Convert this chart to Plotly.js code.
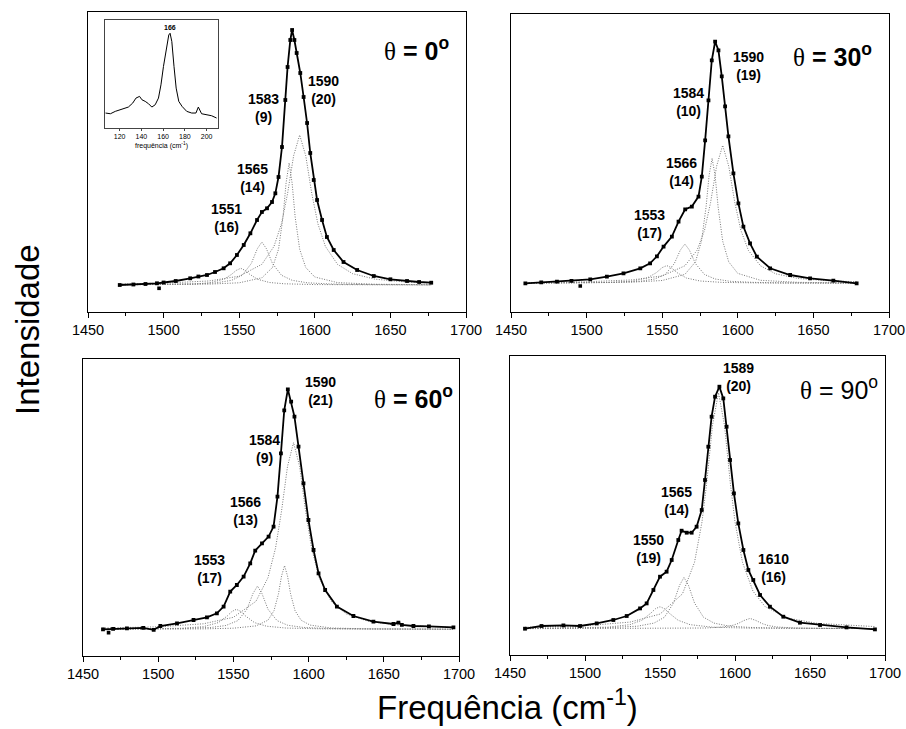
<!DOCTYPE html>
<html><head><meta charset="utf-8">
<script src="https://cdn.plot.ly/plotly-3.0.1.min.js"></script>
<style>html,body{margin:0;padding:0;background:#fff}#chart{width:906px;height:729px}</style>
</head><body><div id="chart"></div>
<script>
// ---------- Panel θ = 0° ----------
const p1X = [1471,1480,1488,1495.6,1500,1508,1517.6,1523,1528.7,1534,1539.7,1544,1548.5,1553,1557.4,1561.8,1565,1568.4,1571.7,1573.9,1576,1578.3,1580.5,1582,1583.8,1585,1586.5,1588,1590.4,1592.6,1594.9,1597,1599.3,1601.5,1604.8,1608,1612.5,1619,1628,1639,1650,1661,1669,1677];
const p1Y = [0,0.5,1,1.7,2.5,4,6.7,8.5,10,13,16.7,21.7,30,40,51.7,65,73,76.7,83,91.7,108,138,185,218,245,255,245,232,212,188,162,132,105,85,65,48,35,23,15,9,5.7,4,3,2.3];
const p1OutX = [1497], p1OutY = [-3.3];
const p1c1X = [1471,1500,1520,1530,1540,1545,1548,1551,1554,1557,1562,1570,1580,1600,1630,1677];
const p1c1Y = [0.17,0.4,1.04,2.1,5.8,10.7,14.6,16.7,14.6,10.7,5.8,2.5,1.2,0.43,0.17,0.07];
const p1c2X = [1471,1500,1520,1535,1545,1552,1558,1562,1565,1568,1572,1578,1585,1595,1610,1630,1677];
const p1c2Y = [0.24,0.49,1.02,2.2,4.7,9.7,21.5,36.3,43,36.3,21.5,9.7,4.7,2.2,1.02,0.49,0.17];
const p1c3X = [1471,1500,1530,1550,1565,1572,1576,1579,1581,1583,1585,1587,1590,1594,1600,1615,1640,1677];
const p1c3Y = [0.2,0.36,0.87,2.2,7.2,17.5,35.7,68.2,101.9,122,101.9,68.2,35.7,17.5,8,2.4,0.76,0.28];
const p1c4X = [1471,1500,1530,1550,1565,1573,1578,1582,1586,1590,1594,1598,1602,1607,1615,1625,1640,1660,1677];
const p1c4Y = [1.05,1.83,4.05,8.8,20.7,38.6,61.5,91.5,129.3,150,129.3,91.5,61.5,38.6,20.7,11.3,5.8,3,1.96];

// ---------- Inset (low-frequency region) ----------
const insX = [107,111.5,116,120.6,123.7,128,132,135,138.3,140.5,143.5,146.6,149.6,152.7,155.7,158,160.3,162.8,165.2,166.4,168,170,172,174.4,177.4,181.7,186.3,190.2,192.4,195.4,200,204.6,209.2];
const insY = [15,14.3,16.7,18.3,20,21,25,30,31.7,28.3,26.7,24.3,21,23.3,30,43.3,61.7,78.3,93.3,95,86.7,61.7,40,26.7,21.7,16.7,15,15,21,14.3,13.3,12.3,10];
const insTicks = [120,140,160,180,200];

// ---------- Panel θ = 30° ----------
const p2X = [1459.5,1470,1480.4,1490,1502.4,1513.4,1524.4,1535.5,1542,1546.5,1550.9,1556.4,1560.8,1565.2,1569.6,1574,1576.2,1578.4,1580.6,1582.8,1585,1587.2,1589.4,1591.6,1593.8,1597.1,1600.4,1603.7,1608.1,1612.6,1621.4,1634.6,1647.8,1663.2,1678.6];
const p2Y = [0,1,1.7,2.5,4,6.7,10,15,20,27,36.7,46.7,61.7,74,76.7,86.7,106.7,143,183,223,241.7,233,207,177,147,110,80,56.7,40,26.7,15,8.3,5,2.7,0];
const p2OutX = [1495.8], p2OutY = [-2.7];
const p2c1X = [1460,1490,1515,1530,1540,1546,1550,1553,1556,1560,1566,1575,1590,1620,1679];
const p2c1Y = [0.15,0.32,0.84,2.1,5.3,10.5,15.7,17.7,15.7,10.5,5.3,2.3,0.89,0.28,0.08];
const p2c2X = [1460,1490,1515,1535,1545,1552,1558,1562,1565,1568,1572,1578,1585,1595,1610,1630,1679];
const p2c2Y = [0.17,0.34,0.76,2,4.3,8.8,19.7,33.2,39.3,33.2,19.7,8.8,4.3,2,0.93,0.45,0.15];
const p2c3X = [1460,1500,1530,1550,1565,1572,1576,1579,1581,1583,1585,1587,1590,1594,1600,1615,1640,1679];
const p2c3Y = [0.21,0.45,1.1,2.8,8.9,21.4,42.2,76.2,107.8,125,107.8,76.2,42.2,21.4,9.9,3,0.95,0.34];
const p2c4X = [1460,1500,1530,1550,1565,1573,1578,1582,1586,1590,1594,1598,1602,1607,1615,1625,1640,1660,1679];
const p2c4Y = [0.73,1.52,3.4,7.4,17.5,32.9,53.1,80.8,117.2,138,117.2,80.8,53.1,32.9,17.5,9.5,4.8,2.5,1.55];

// ---------- Panel θ = 60° ----------
const p3X = [1463.3,1470,1479.2,1490,1497,1501.4,1512.5,1523.5,1532.4,1539,1543.5,1547.9,1552.3,1556.8,1561.2,1564.5,1569,1573.4,1576.7,1579.3,1581.6,1583.8,1586.2,1588.4,1590.6,1593.3,1596.6,1599.9,1603.3,1606.6,1611,1618.8,1629.8,1643.1,1656.4,1659.7,1662,1669.7,1680,1696.3];
const p3Y = [0,0.5,1,1.5,-0.5,3.3,6,9.3,12,16,22.7,37.7,44.3,52.7,66,78.7,86,92.7,102.7,132.7,176,219,240,227.7,212.7,182.7,146,109.3,79.3,56,39.3,22.7,13.3,7.7,5.3,6.7,4.5,3.3,3,2];
const p3OutX = [1467], p3OutY = [-3.3];
const p3c1X = [1463,1490,1515,1530,1540,1546,1549,1552,1555,1558,1564,1572,1585,1610,1650,1696];
const p3c1Y = [0.18,0.37,1,2.6,6.7,13.4,17.8,20,17.8,13.4,6.7,3.1,1.24,0.42,0.15,0.07];
const p3c2X = [1463,1490,1515,1535,1545,1553,1559,1563,1566,1569,1573,1579,1586,1596,1610,1630,1696];
const p3c2Y = [0.17,0.32,0.69,1.83,3.8,8.7,20,35.7,43.3,35.7,20,8.7,4.1,1.94,0.93,0.44,0.11];
const p3c3X = [1463,1500,1530,1550,1565,1573,1577,1580,1582,1584,1586,1588,1591,1595,1601,1615,1640,1696];
const p3c3Y = [0.09,0.18,0.44,1.1,3.4,9.1,18.6,35.6,53.2,63.7,53.2,35.6,18.6,9.1,4.2,1.3,0.41,0.1];
const p3c4X = [1463,1500,1530,1550,1565,1573,1578,1582,1586,1590,1594,1598,1602,1607,1615,1625,1640,1660,1696];
const p3c4Y = [1.27,2.5,5.5,12,28,51.6,81,118.2,163.1,186.7,163.1,118.2,81,51.6,28,15.4,7.9,4.1,1.8];

// ---------- Panel θ = 90° ----------
const p4X = [1460,1471,1485.6,1496.7,1507.8,1518.9,1527.8,1536.7,1541.1,1545.6,1550,1554.4,1557.8,1562.2,1564.4,1567.8,1571.1,1574.4,1577.8,1580,1582.2,1584.4,1586.7,1589.6,1592.2,1594.4,1596.7,1599.3,1602.2,1605.6,1608.9,1612.2,1616.7,1623.3,1632.2,1643.3,1656.7,1674.4,1693.3];
const p4Y = [0,2.7,3.3,2.7,5.3,8.7,12.7,20.3,25.3,38.7,52,57,68.7,88.7,98,96,96,102,118.7,148.7,182,212,232,242,230.3,202,168.7,135.3,105.3,78.7,58.7,48.7,33.7,22,12,6,3.7,1.3,-0.7];
const p4c1X = [1460,1490,1515,1530,1538,1544,1547,1550,1553,1556,1562,1570,1585,1610,1650,1693];
const p4c1Y = [0.24,0.54,1.5,4.05,8.5,15.7,20,22,20,15.7,8.5,4.05,1.5,0.54,0.2,0.1];
const p4c2X = [1460,1490,1515,1535,1546,1553,1559,1563,1566,1569,1573,1579,1586,1596,1610,1630,1693];
const p4c2Y = [0.22,0.43,0.95,2.5,5.6,11.5,25.7,43.3,51.3,43.3,25.7,11.5,5.6,2.6,1.27,0.61,0.16];
const p4c3X = [1460,1500,1530,1550,1565,1573,1578,1581,1585,1589,1593,1597,1600,1605,1612,1620,1635,1655,1693];
const p4c3Y = [1.41,2.94,6.6,14.6,34.9,66.3,106.8,143.9,203.4,236,203.4,143.9,106.8,66.3,37.5,22.2,10.6,5.3,2.15];
const p4c4X = [1460,1520,1560,1580,1592,1598,1602,1606,1610,1614,1618,1622,1628,1640,1660,1693];
const p4c4Y = [0.03,0.08,0.26,0.68,1.7,3.2,5.15,8.2,10.3,8.2,5.15,3.2,1.7,0.68,0.26,0.09];

const xTick0 = 1450, xTickStep = 50, xMinorStep = 25;

// ---------- build ----------
const FONT = 'Liberation Sans, Arial, sans-serif';
const SERIF = 'Liberation Serif, Times New Roman, serif';
function dataTrace(x, y, ax) {
  return {x, y, xaxis: 'x' + ax, yaxis: 'y' + ax, mode: 'lines+markers', type: 'scatter',
    line: {color: '#000', width: 1.8}, marker: {symbol: 'square', size: 3.8, color: '#000'}, hoverinfo: 'skip'};
}
function outTrace(x, y, ax) {
  return {x, y, xaxis: 'x' + ax, yaxis: 'y' + ax, mode: 'markers', type: 'scatter',
    marker: {symbol: 'square', size: 3.6, color: '#000'}, hoverinfo: 'skip'};
}
function compTrace(x, y, ax) {
  return {x, y, xaxis: 'x' + ax, yaxis: 'y' + ax, mode: 'lines', type: 'scatter',
    line: {color: '#777', width: 1, dash: '1px,1.5px'}, hoverinfo: 'skip'};
}
const traces = [
  compTrace(p1c1X, p1c1Y, ''), compTrace(p1c2X, p1c2Y, ''), compTrace(p1c3X, p1c3Y, ''), compTrace(p1c4X, p1c4Y, ''),
  dataTrace(p1X, p1Y, ''), outTrace(p1OutX, p1OutY, ''),
  compTrace(p2c1X, p2c1Y, 2), compTrace(p2c2X, p2c2Y, 2), compTrace(p2c3X, p2c3Y, 2), compTrace(p2c4X, p2c4Y, 2),
  dataTrace(p2X, p2Y, 2), outTrace(p2OutX, p2OutY, 2),
  compTrace(p3c1X, p3c1Y, 3), compTrace(p3c2X, p3c2Y, 3), compTrace(p3c3X, p3c3Y, 3), compTrace(p3c4X, p3c4Y, 3),
  dataTrace(p3X, p3Y, 3), outTrace(p3OutX, p3OutY, 3),
  compTrace(p4c1X, p4c1Y, 4), compTrace(p4c2X, p4c2Y, 4), compTrace(p4c3X, p4c3Y, 4), compTrace(p4c4X, p4c4Y, 4),
  dataTrace(p4X, p4Y, 4),
  {x: insX, y: insY, xaxis: 'x5', yaxis: 'y5', mode: 'lines', type: 'scatter', line: {color: '#000', width: 1}, hoverinfo: 'skip'}
];

const W = 906, H = 729;
function dx(a, b) { return [a / W, b / W]; }
function dy(top, bottom) { return [1 - bottom / H, 1 - top / H]; }
function xAx(domain, anchor) {
  return {domain, anchor, range: [1450, 1700], showgrid: false, zeroline: false, showline: true, linecolor: '#000', linewidth: 1,
    mirror: true, tickmode: 'linear', tick0: xTick0, dtick: xTickStep, ticks: 'outside', ticklen: 5, tickwidth: 1, tickcolor: '#000',
    tickfont: {family: FONT, size: 14.5, color: '#000'},
    minor: {dtick: xMinorStep, tick0: xTick0, ticks: 'outside', ticklen: 3, tickcolor: '#000'}, fixedrange: true};
}
function yAx(domain, anchor, range) {
  return {domain, anchor, range, showgrid: false, zeroline: false, showline: true, linecolor: '#000', linewidth: 1,
    mirror: true, ticks: '', showticklabels: false, fixedrange: true};
}
function lbl(text, x, y, ax) {
  return {text: '<b>' + text + '</b>', x, y, xref: 'x' + ax, yref: 'y' + ax, showarrow: false,
    xanchor: 'center', yanchor: 'middle', font: {family: FONT, size: 14, color: '#000'}, align: 'center'};
}
function theta(deg, x, y, ax, bold) {
  const rest = bold ? '<b>= ' + deg + '<sup>o</sup></b>' : '= ' + deg + '<sup>o</sup>';
  return {text: '<span style="font-family:' + SERIF + '">θ</span> ' + rest, x, y, xref: 'x' + ax, yref: 'y' + ax,
    xanchor: 'center', yanchor: 'middle', showarrow: false, font: {family: FONT, size: 25, color: '#000'}};
}

const layout = {
  width: W, height: H, margin: {l: 0, r: 0, t: 0, b: 0}, paper_bgcolor: '#fff', plot_bgcolor: '#fff', showlegend: false,
  xaxis: xAx(dx(88, 466), 'y'), yaxis: yAx(dy(12, 312), 'x', [-27, 273]),
  xaxis2: xAx(dx(511, 889), 'y2'), yaxis2: yAx(dy(14, 311.7), 'x2', [-28.4, 269.3]),
  xaxis3: xAx(dx(83, 459), 'y3'), yaxis3: yAx(dy(359, 655.7), 'x3', [-26.4, 270.3]),
  xaxis4: xAx(dx(510, 885), 'y4'), yaxis4: yAx(dy(356, 655), 'x4', [-26.3, 272.7]),
  xaxis5: {domain: dx(105, 218), anchor: 'y5', range: [106.5, 210.5], showgrid: false, zeroline: false, showline: true,
    linecolor: '#444', linewidth: 1, mirror: true, tickmode: 'array', tickvals: insTicks, ticks: 'outside', ticklen: 2, tickcolor: '#444',
    tickfont: {family: FONT, size: 7, color: '#000'},
    title: {text: 'frequência (cm<sup>-1</sup>)', font: {family: FONT, size: 7, color: '#000'}, standoff: 3}},
  yaxis5: {domain: dy(20, 128), anchor: 'x5', range: [0, 108.3], showgrid: false, zeroline: false, showline: true,
    linecolor: '#444', linewidth: 1, mirror: true, ticks: '', showticklabels: false},
  annotations: [
    lbl('1590<br>(20)', 1606, 195, ''), lbl('1583<br>(9)', 1566, 177, ''), lbl('1565<br>(14)', 1558.5, 107, ''), lbl('1551<br>(16)', 1541.5, 67, ''),
    theta('0', 1667, 236, '', true),
    lbl('1590<br>(19)', 1607, 217, 2), lbl('1584<br>(10)', 1567.4, 181, 2), lbl('1566<br>(14)', 1563, 111, 2), lbl('1553<br>(17)', 1541.4, 59, 2),
    theta('30', 1662.4, 228, 2, true),
    lbl('1590<br>(21)', 1607.7, 238, 3), lbl('1584<br>(9)', 1570.5, 180, 3), lbl('1566<br>(13)', 1558.3, 118, 3), lbl('1553<br>(17)', 1534, 60, 3),
    theta('60', 1670, 232.6, 3, true),
    lbl('1589<br>(20)', 1602.2, 252, 4), lbl('1565<br>(14)', 1561.1, 128, 4), lbl('1550<br>(19)', 1542.2, 80, 4), lbl('1610<br>(16)', 1625.6, 61, 4),
    theta('90', 1669, 240.7, 4, false),
    {text: '<b>166</b>', x: 166, y: 101, xref: 'x5', yref: 'y5', showarrow: false, xanchor: 'center', yanchor: 'middle',
      font: {family: FONT, size: 7, color: '#000'}},
    {text: 'Intensidade', x: 28 / W, y: 1 - 330 / H, xref: 'paper', yref: 'paper', showarrow: false, textangle: -90,
      xanchor: 'center', yanchor: 'middle', font: {family: FONT, size: 33, color: '#000'}},
    {text: 'Frequência (cm<sup>-1</sup>)', x: 507 / W, y: 1 - 705 / H, xref: 'paper', yref: 'paper', showarrow: false,
      xanchor: 'center', yanchor: 'middle', font: {family: FONT, size: 33, color: '#000'}}
  ]
};
Plotly.newPlot('chart', traces, layout, {staticPlot: true, displayModeBar: false});
</script>
</body></html>
